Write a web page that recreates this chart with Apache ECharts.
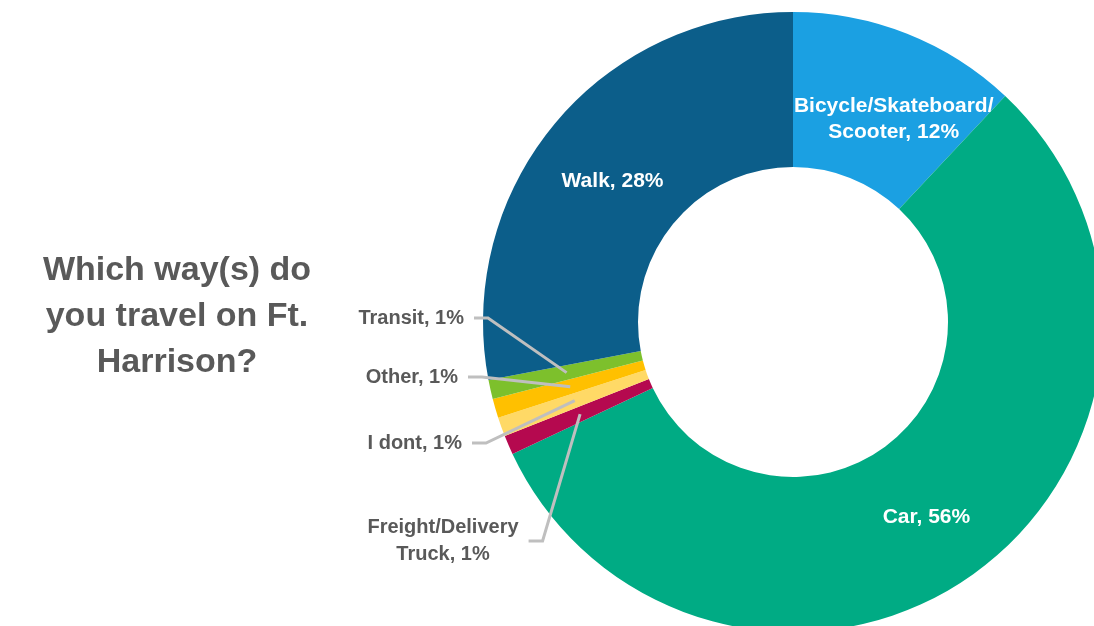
<!DOCTYPE html>
<html>
<head>
<meta charset="utf-8">
<script src="https://cdn.jsdelivr.net/npm/echarts@6/dist/echarts.min.js"></script>
<style>
  html, body { margin: 0; padding: 0; background: #ffffff; }
  #chart { width: 1094px; height: 626px; }
</style>
</head>
<body>
<div id="chart"></div>
<script>
// ---- data ----
const categories = ['Bicycle/Skateboard/\nScooter', 'Car', 'Freight/Delivery\nTruck', 'I dont', 'Other', 'Transit', 'Walk'];
const values = [12, 56, 1, 1, 1, 1, 28];
const titleText = 'Which way(s) do\nyou travel on Ft.\nHarrison?';

// ---- styles ----
const colors = ['#1BA0E2', '#00AB84', '#B5094F', '#FFD966', '#FFC000', '#7DC02C', '#0C5E8A'];
// outside label anchor positions (x, y, align) for the small slices, by category index
const smallLabelPlacement = {
  2: { x: 443, y: 541, align: 'center' },
  3: { x: 462, y: 443, align: 'right' },
  4: { x: 458, y: 377, align: 'right' },
  5: { x: 464, y: 318, align: 'right' }
};
const FONT = '"Liberation Sans", Arial, sans-serif';

const chart = echarts.init(document.getElementById('chart'), null, { renderer: 'canvas' });

const mainData = categories.map((name, i) => ({
  name: name,
  value: values[i],
  itemStyle: { color: colors[i] },
  label: { show: values[i] >= 5 }
}));

const ghostData = categories.map((name, i) => ({
  name: name,
  value: values[i],
  itemStyle: { color: 'rgba(0,0,0,0)' },
  label: { show: values[i] < 5 },
  labelLine: { show: values[i] < 5 }
}));

const option = {
  backgroundColor: '#ffffff',
  animation: false,
  title: {
    text: titleText,
    left: 177,
    top: 248,
    textAlign: 'center',
    padding: 0,
    textStyle: {
      fontFamily: FONT,
      fontSize: 34,
      fontWeight: 'bold',
      color: '#595959',
      lineHeight: 46,
      align: 'center'
    }
  },
  series: [
    {
      type: 'pie',
      center: [793, 322],
      radius: [155, 310],
      startAngle: 90,
      clockwise: true,
      avoidLabelOverlap: false,
      silent: true,
      data: mainData,
      label: {
        position: 'inside',
        formatter: '{b}, {c}%',
        color: '#ffffff',
        fontFamily: FONT,
        fontWeight: 'bold',
        fontSize: 21,
        lineHeight: 26
      },
      labelLine: { show: false },
      labelLayout: function (p) {
        if (p.dataIndex === 0) return { dx: 14, dy: 16 };
        if (p.dataIndex === 6) return { dx: 1, dy: 9 };
        if (p.dataIndex === 1) return { dx: -5, dy: 5 };
        return {};
      }
    },
    {
      type: 'pie',
      center: [793, 322],
      radius: [155, 232],
      startAngle: 90,
      clockwise: true,
      avoidLabelOverlap: false,
      silent: true,
      z: 5,
      data: ghostData,
      label: {
        position: 'outside',
        formatter: '{b}, {c}%',
        color: '#595959',
        fontFamily: FONT,
        fontWeight: 'bold',
        fontSize: 20,
        lineHeight: 27,
        align: 'center'
      },
      labelLine: {
        show: true,
        length: 10,
        length2: 10,
        lineStyle: { color: '#BFBFBF', width: 3 }
      },
      labelLayout: function (p) {
        const place = smallLabelPlacement[p.dataIndex];
        if (!place || !p.labelLinePoints) return {};
        const start = p.labelLinePoints[0];
        const halfW = p.labelRect.width / 2;
        const rightEdge = place.align === 'right' ? place.x : place.x + halfW;
        const end = [rightEdge + 10, place.y];
        const bend = [rightEdge + 24, place.y];
        return {
          x: place.x,
          y: place.y,
          align: place.align,
          verticalAlign: 'middle',
          labelLinePoints: [start, bend, end]
        };
      }
    }
  ]
};

chart.setOption(option);
</script>
</body>
</html>
